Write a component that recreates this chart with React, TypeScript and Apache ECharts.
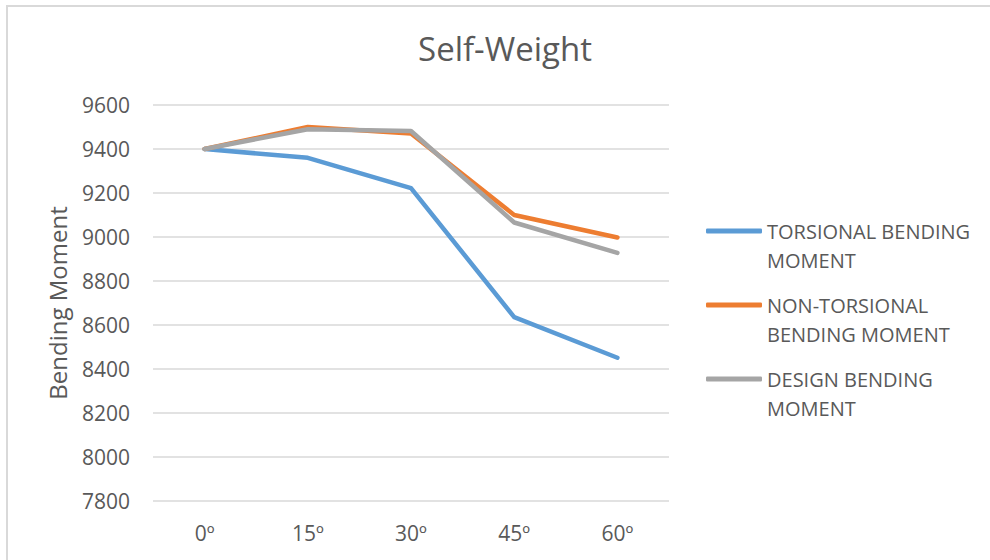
import React, { useEffect, useRef } from "react";
import * as echarts from "echarts";

const categories = ["0º", "15º", "30º", "45º", "60º"];
const torsional = [9400, 9360, 9222, 8636, 8451];
const nonTorsional = [9400, 9500, 9470, 9100, 8998];
const design = [9400, 9490, 9482, 9066, 8928];
const seriesNames = [
  "TORSIONAL BENDING\nMOMENT",
  "NON-TORSIONAL\nBENDING MOMENT",
  "DESIGN BENDING\nMOMENT",
];
const colors = ["#5B9BD5", "#ED7D31", "#A5A5A5"];

const FONT = "'Open Sans', 'Noto Sans', sans-serif";
const TEXT = "#595959";

export default function App() {
  const ref = useRef<HTMLDivElement>(null);

  useEffect(() => {
    if (!ref.current) return;
    const chart = echarts.init(ref.current, undefined, { renderer: "svg" });
    const values = [torsional, nonTorsional, design];
    const lineH = 29;
    // y of the first text line of each legend entry
    const firstLine = [226, 300, 374];

    chart.setOption({
      animation: false,
      backgroundColor: "#ffffff",
      textStyle: { fontFamily: FONT, color: TEXT },
      title: {
        text: "Self-Weight",
        left: 500,
        top: 27,
        textAlign: "center",
        textStyle: { fontFamily: FONT, fontSize: 33, fontWeight: "normal", color: TEXT },
      },
      graphic: [
        {
          type: "rect",
          shape: { x: 7, y: 6, width: 1000, height: 600 },
          style: { fill: "none", stroke: "#D9D9D9", lineWidth: 2 },
          silent: true,
        },
      ],
      // one legend per series; a leading blank line puts the icon beside the first text line
      legend: seriesNames.map((n, i) => ({
        data: [n],
        orient: "vertical",
        left: 701,
        top: firstLine[i] - lineH * 1.5,
        icon: "roundRect",
        itemWidth: 56,
        itemHeight: 5,
        selectedMode: false,
        formatter: (name: string) => "\n" + name,
        textStyle: {
          fontFamily: FONT,
          fontSize: 20,
          color: TEXT,
          lineHeight: lineH,
        },
      })),
      grid: { left: 153, right: 321, top: 105, bottom: 59 },
      xAxis: {
        type: "category",
        data: categories,
        boundaryGap: true,
        axisLine: { show: false },
        axisTick: { show: false },
        axisLabel: { fontFamily: FONT, fontSize: 21, color: TEXT, margin: 21 },
      },
      yAxis: {
        type: "value",
        min: 7800,
        max: 9600,
        interval: 200,
        name: "Bending Moment",
        nameLocation: "middle",
        nameGap: 84,
        nameTextStyle: { fontFamily: FONT, fontSize: 24, color: TEXT },
        axisLine: { show: false },
        axisTick: { show: false },
        axisLabel: {
          fontFamily: FONT,
          fontSize: 21,
          color: TEXT,
          margin: 23,
          formatter: (v: number) => String(v),
        },
        splitLine: { lineStyle: { color: "#D9D9D9", width: 1.5 } },
      },
      series: seriesNames.map((n, i) => ({
        name: n,
        type: "line",
        data: values[i],
        symbol: "none",
        color: colors[i],
        lineStyle: { width: 4.5, color: colors[i], cap: "round", join: "round" },
        itemStyle: { color: colors[i] },
      })),
    });

    return () => chart.dispose();
  }, []);

  return (
    <div
      ref={ref}
      style={{ position: "absolute", left: 0, top: 0, width: 990, height: 560 }}
    />
  );
}
